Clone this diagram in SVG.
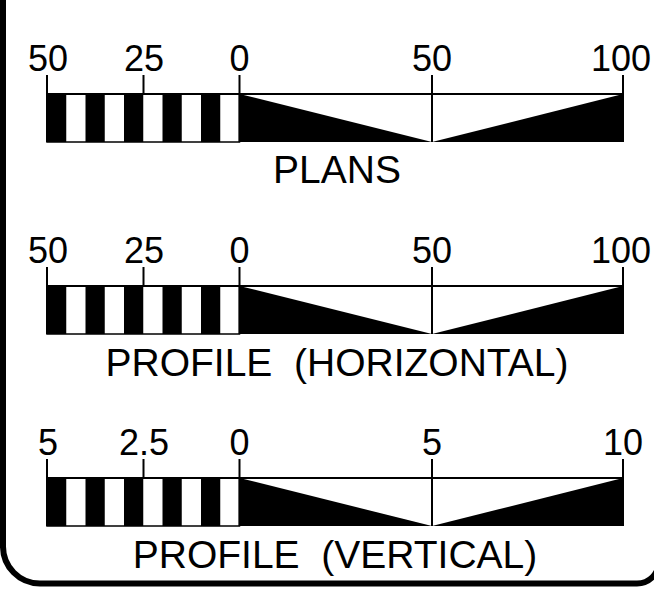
<svg xmlns="http://www.w3.org/2000/svg" xmlns:xlink="http://www.w3.org/1999/xlink" width="654" height="592" viewBox="0 0 654 592">
  <style>
    .num { font-family: "Liberation Sans", Arial, sans-serif; font-size: 36px; fill: #000; text-anchor: middle; }
    .title { font-family: "Liberation Sans", Arial, sans-serif; font-size: 39px; fill: #000; text-anchor: middle; white-space: pre; }
    .ln { stroke: #000; stroke-width: 2; fill: none; }
    .blk { fill: #000; stroke: none; }
    .frame { fill: none; stroke: #000; stroke-width: 6; }
  </style>
  <defs>
    <g id="bar">
      <rect x="47" y="0" width="192.5" height="48" fill="#fff" stroke="#000" stroke-width="1.5"/>
      <rect class="blk" x="47" y="0" width="19.25" height="48"/>
      <rect class="blk" x="85.5" y="0" width="19.25" height="48"/>
      <rect class="blk" x="124" y="0" width="19.25" height="48"/>
      <rect class="blk" x="162.5" y="0" width="19.25" height="48"/>
      <rect class="blk" x="201" y="0" width="19.25" height="48"/>
      <polygon class="blk" points="239.5,0 432,48 239.5,48"/>
      <polygon class="blk" points="432,48 623,0 623,48"/>
      <line class="ln" x1="47" y1="0" x2="623" y2="0"/>
      <line class="ln" x1="47" y1="-19" x2="47" y2="48"/>
      <line class="ln" x1="143.5" y1="-19" x2="143.5" y2="0"/>
      <line class="ln" x1="239.5" y1="-19" x2="239.5" y2="48"/>
      <line class="ln" x1="432" y1="-19" x2="432" y2="48"/>
      <line class="ln" x1="623" y1="-19" x2="623" y2="48"/>
    </g>
  </defs>

  <path id="frame" class="frame" d="M 3,-5 V 546 A 37 37 0 0 0 40 583.5 H 637 A 22 22 0 0 0 659 561.5 V -5"/>

  <g id="scale-plans">
    <use xlink:href="#bar" href="#bar" x="0" y="94"/>
    <text class="num" x="48" y="71">50</text>
    <text class="num" x="144" y="71">25</text>
    <text class="num" x="239.5" y="71">0</text>
    <text class="num" x="432" y="71">50</text>
    <text class="num" x="621" y="71">100</text>
    <text class="title" x="337" y="183">PLANS</text>
  </g>

  <g id="scale-profile-horizontal">
    <use xlink:href="#bar" href="#bar" x="0" y="286"/>
    <text class="num" x="48" y="263">50</text>
    <text class="num" x="144" y="263">25</text>
    <text class="num" x="239.5" y="263">0</text>
    <text class="num" x="432" y="263">50</text>
    <text class="num" x="621" y="263">100</text>
    <text class="title" x="337" y="376" xml:space="preserve">PROFILE  (HORIZONTAL)</text>
  </g>

  <g id="scale-profile-vertical">
    <use xlink:href="#bar" href="#bar" x="0" y="478"/>
    <text class="num" x="48" y="455">5</text>
    <text class="num" x="144" y="455">2.5</text>
    <text class="num" x="239.5" y="455">0</text>
    <text class="num" x="432" y="455">5</text>
    <text class="num" x="623" y="455">10</text>
    <text class="title" x="335" y="568" xml:space="preserve">PROFILE  (VERTICAL)</text>
  </g>
</svg>
